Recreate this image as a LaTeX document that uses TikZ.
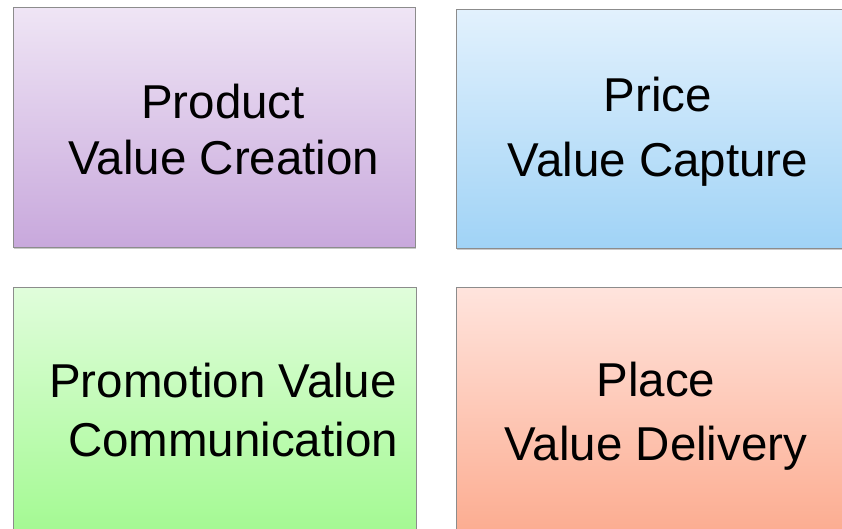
\documentclass[tikz,border=0pt]{standalone}
\usepackage{fontspec}
\setmainfont{Liberation Sans}
\usetikzlibrary{shadows}
\definecolor{pTop}{HTML}{EFE5F5}\definecolor{pBot}{HTML}{C8A8DC}
\definecolor{bTop}{HTML}{E2F1FD}\definecolor{bBot}{HTML}{A0D3F6}
\definecolor{gTop}{HTML}{E0FDDB}\definecolor{gBot}{HTML}{A0F98E}
\definecolor{sTop}{HTML}{FFE4DD}\definecolor{sBot}{HTML}{FCA98C}
\definecolor{edge}{HTML}{8C8C8C}
\tikzset{
  card/.style={rectangle, draw=edge, line width=0.9pt, inner sep=0pt, anchor=north west,
    drop shadow={shadow xshift=0.6pt, shadow yshift=-1.2pt, opacity=0.35, fill=black!60}},
  label/.style={anchor=base, inner sep=0pt, font=\fontsize{47.5}{56}\selectfont, text=black}
}
\begin{document}
\begin{tikzpicture}[x=1pt,y=-1pt]
\useasboundingbox (0,0) rectangle (842,528);
\clip (0,0) rectangle (842,528);
\fill[white] (0,0) rectangle (842,528);
\node[card, top color=pTop, bottom color=pBot, minimum width=402pt, minimum height=240pt] (prod) at (13,7) {};
\node[card, top color=bTop, bottom color=bBot, minimum width=410pt, minimum height=239pt] (price) at (456,9) {};
\node[card, top color=gTop, bottom color=gBot, minimum width=403pt, minimum height=260pt] (promo) at (13,287) {};
\node[card, top color=sTop, bottom color=sBot, minimum width=410pt, minimum height=260pt] (place) at (456,287) {};
\node[label] (t1) at (223,118) {Product};
\node[label] (t2) at (224,174) {Value Creation};
\node[label] (t3) at (658,111) {Price};
\node[label] (t4) at (658,176) {Value Capture};
\node[label] (t5) at (223,397) {Promotion Value};
\node[label] (t6) at (233,456) {Communication};
\node[label] (t7) at (656,396) {Place};
\node[label] (t8) at (656,460) {Value Delivery};
\end{tikzpicture}
\end{document}
